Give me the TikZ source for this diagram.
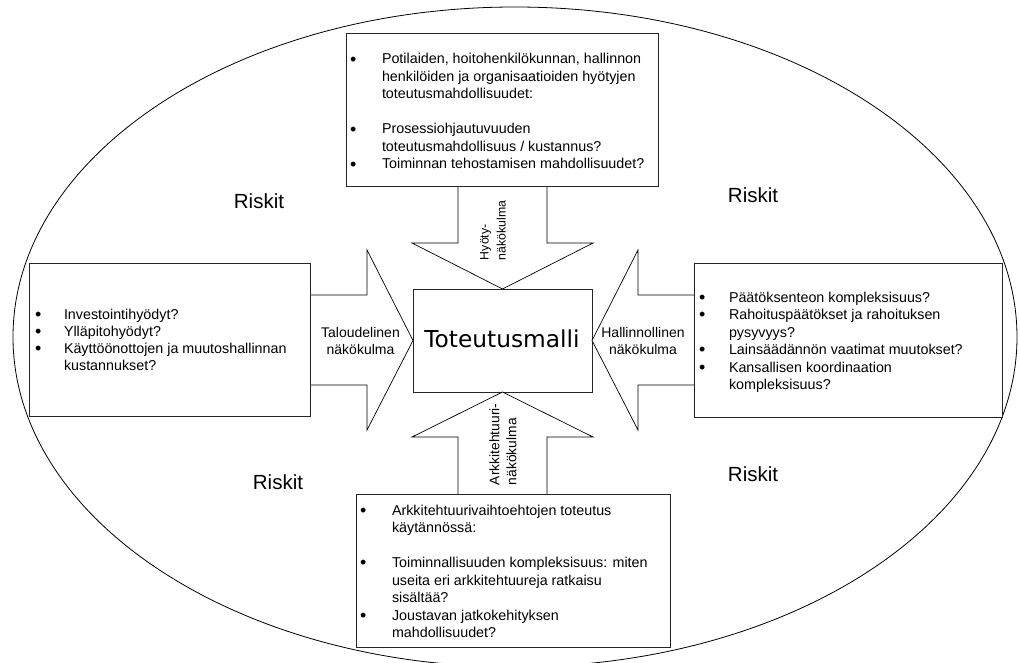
\documentclass[tikz,border=0pt]{standalone}
\usepackage{fontspec}
\setmainfont{Liberation Sans}
\newfontfamily\corefont{DejaVu Sans}
\usepackage{array}

% bullet list: first argument is the width of the bullet column
\newcommand\bulletrows[2]{\begin{tabular}[t]{@{}p{#1}@{}l@{}}#2\end{tabular}}
\newcommand\bigbullet{\smash{\raisebox{-0.08em}{\scalebox{1.25}{\textbullet}}}}

\tikzset{
  every node/.style={inner sep=0pt, outer sep=0pt},
  frame/.style={draw=black!85, line width=0.9pt, fill=white, anchor=north west},
  blockarrow/.style={draw=black, line width=0.7pt, fill=white, line join=miter},
  listtext/.style={font=\fontsize{14.3}{17.5}\selectfont, anchor=base west},
  risk/.style={font=\fontsize{20.5}{24}\selectfont, anchor=base},
  viewlabel/.style={font=\fontsize{14}{17}\selectfont, align=center},
  sidelabel/.style={font=\fontsize{13.8}{17}\selectfont, align=left, rotate=90, anchor=west},
}

\begin{document}
\begin{tikzpicture}[x=1pt,y=-1pt]
\useasboundingbox (0,0) rectangle (1020,663);

% outer boundary
\draw[line width=0.8pt] (515,337) ellipse [x radius=502, y radius=330];

% central model
\node[frame, minimum width=179, minimum height=103] (core) at (413,289) {};

% block arrows pointing at the model
\draw[blockarrow] (458,180) -- (458,243) -- (412,243) -- (core.north) -- (593,243) -- (547,243) -- (547,180) -- cycle;
\draw[blockarrow] (305,295) -- (367,295) -- (367,250) -- (core.west) -- (367,430) -- (367,385) -- (305,385) -- cycle;
\draw[blockarrow] (700,295) -- (638,295) -- (638,250) -- (core.east) -- (638,430) -- (638,385) -- (700,385) -- cycle;
\draw[blockarrow] (458,500) -- (458,437) -- (412,437) -- (core.south) -- (593,437) -- (547,437) -- (547,500) -- cycle;

% perspective boxes
\node[frame, minimum width=312, minimum height=153] (benefit) at (346,33) {};
\node[frame, minimum width=281, minimum height=153] (economy) at (29,263) {};
\node[frame, minimum width=308, minimum height=154] (admin) at (694,263) {};
\node[frame, minimum width=314, minimum height=153] (arch) at (356,494) {};

% model title
\node[font=\corefont\fontsize{23.3}{28}\selectfont, anchor=base] (coretitle) at (502,347) {Toteutusmalli};

% list texts
\node[listtext] (benefittext) at (350,64) {\bulletrows{32pt}{%
\bigbullet & Potilaiden, hoitohenkilökunnan, hallinnon\\
 & henkilöiden ja organisaatioiden hyötyjen\\
 & toteutusmahdollisuudet:\\
 & \\
\bigbullet & Prosessiohjautuvuuden\\
 & toteutusmahdollisuus / kustannus?\\
\bigbullet & Toiminnan tehostamisen mahdollisuudet?}};

\node[listtext, font=\fontsize{14.3}{17}\selectfont] (economytext) at (35,319) {\bulletrows{29pt}{%
\bigbullet & Investointihyödyt?\\
\bigbullet & Ylläpitohyödyt?\\
\bigbullet & Käyttöönottojen ja muutoshallinnan\\
 & kustannukset?}};

\node[listtext] (admintext) at (699,302) {\bulletrows{30pt}{%
\bigbullet & Päätöksenteon kompleksisuus?\\
\bigbullet & Rahoituspäätökset ja rahoituksen\\
 & pysyvyys?\\
\bigbullet & Lainsäädännön vaatimat muutokset?\\
\bigbullet & Kansallisen koordinaation\\
 & kompleksisuus?}};

\node[listtext] (archtext) at (360,515) {\bulletrows{32pt}{%
\bigbullet & Arkkitehtuurivaihtoehtojen toteutus\\
 & käytännössä:\\
 & \\
\bigbullet & Toiminnallisuuden kompleksisuus: miten\\
 & useita eri arkkitehtuureja ratkaisu\\
 & sisältää?\\
\bigbullet & Joustavan jatkokehityksen\\
 & mahdollisuudet?}};

% arrow labels
\node[viewlabel] (economylabel) at (360.5,341) {Taloudelinen\\näkökulma};
\node[viewlabel] (adminlabel) at (643,341) {Hallinnollinen\\näkökulma};
\node[sidelabel, font=\fontsize{12.3}{17}\selectfont] (benefitlabel) at (493,260) {Hyöty-\\näkökulma};
\node[sidelabel] (archlabel) at (503,485) {Arkkitehtuuri-\\näkökulma};

% risk labels
\node[risk] (risk1) at (259,209) {Riskit};
\node[risk] (risk2) at (753,203) {Riskit};
\node[risk] (risk3) at (278,489) {Riskit};
\node[risk] (risk4) at (753,481) {Riskit};
\end{tikzpicture}
\end{document}
